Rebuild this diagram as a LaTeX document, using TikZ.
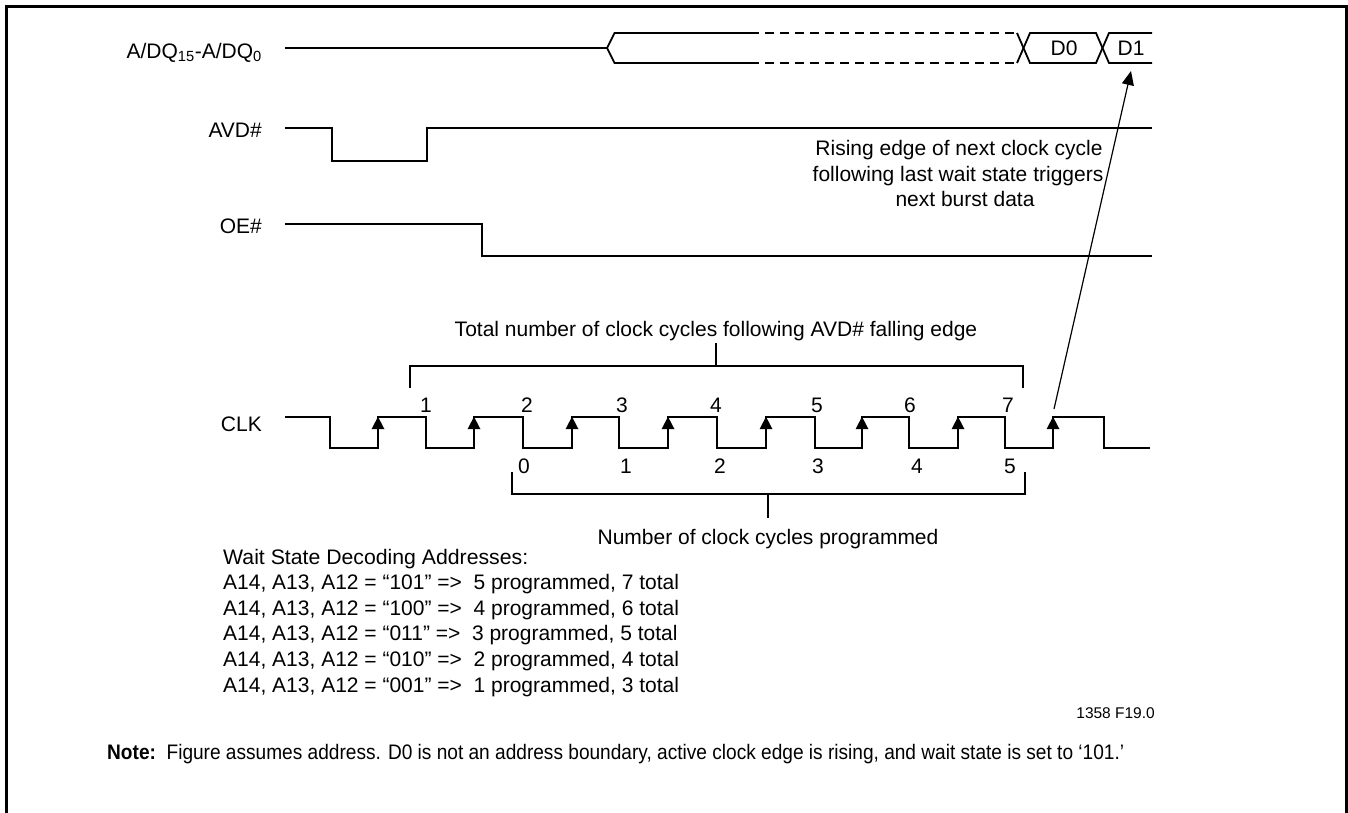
\documentclass[tikz,border=0pt]{standalone}
\usepackage{fontspec}
\setmainfont{Liberation Sans}
\usepackage{graphicx}
\usetikzlibrary{arrows.meta}
\begin{document}
\begin{tikzpicture}[x=1pt,y=-1pt,
  sig/.style={line width=1.8pt, line join=miter},
  brk/.style={line width=1.2pt},
  lbl/.style={font=\fontsize{21}{25}\selectfont, inner sep=0pt},
  small/.style={font=\fontsize{15.5}{18}\selectfont, inner sep=0pt},
  frame/.style={line width=3pt},
  clkup/.style={fill=black},
  pointer/.style={line width=1.2pt, -{Triangle[length=14pt,width=12pt]}}]
\useasboundingbox (0,0) rectangle (1348,812);
\clip (0,0) rectangle (1348,812);
\fill[white] (0,0) rectangle (1348,812);
\draw[frame] (6,830) -- (6,6) -- (1346.5,6) -- (1346.5,830);

% signal names
\node[lbl, anchor=base east] (ladq) at (262,58) {A/DQ\textsubscript{15}-A/DQ\textsubscript{0}};
\node[lbl, anchor=base east] (lavd) at (262,137) {AVD\#};
\node[lbl, anchor=base east] (loe) at (262,233) {OE\#};
\node[lbl, anchor=base east] (lclk) at (262,431.5) {CLK};

% A/DQ bus
\draw[sig] (285,48) -- (607,48);
\draw[sig] (607,48) -- (614.5,33) -- (750,33);
\draw[sig] (607,48) -- (614.5,63) -- (750,63);
\draw[sig, dash pattern=on 9pt off 6pt] (750,33) -- (1017,33);
\draw[sig, dash pattern=on 9pt off 6pt] (750,63) -- (1017,63);
\draw[sig] (1017,33) -- (1030,63) -- (1096,63) -- (1109,33) -- (1152,33);
\draw[sig] (1017,63) -- (1030,33) -- (1096,33) -- (1109,63) -- (1152,63);
\node[lbl, anchor=base] (d0) at (1064,55.5) {D0};
\node[lbl, anchor=base] (d1) at (1131,55.5) {D1};

% AVD#
\draw[sig] (285,128) -- (332,128) -- (332,161) -- (427,161) -- (427,128) -- (1152,128);
% OE#
\draw[sig] (285,224) -- (482,224) -- (482,256) -- (1152,256);

% CLK
\def\hi{416.7}\def\lo{448.3}
\draw[sig] (285,\hi)
  \foreach \f/\r in {330/378,426/474,523/572,619/668,717/766,815/862,909/958,1005/1053}
  { -- (\f,\hi) -- (\f,\lo) -- (\r,\lo) -- (\r,\hi) }
  -- (1104,\hi) -- (1104,\lo) -- (1150,\lo);
\foreach \r in {378,474,572,668,766,862,958,1053}
  \fill[clkup] (\r,\hi) -- ++(-6.5,12.5) -- ++(13,0) -- cycle;

% cycle numbers
\foreach \x/\n in {426/1,527/2,622/3,716/4,817/5,910/6,1008/7}
  \node[lbl, anchor=base] (top\n) at (\x,412) {\n};
\foreach \x/\n in {524/0,626/1,720/2,818/3,917/4,1010/5}
  \node[lbl, anchor=base] (bot\n) at (\x,473) {\n};

% top bracket
\draw[brk] (410,388) -- (410,366) -- (1023,366) -- (1023,388);
\draw[brk] (716,366) -- (716,343);
\node[lbl, anchor=base] (ttot) at (716,336.5) {Total number of clock cycles following AVD\# falling edge};

% bottom bracket
\draw[brk] (512,472) -- (512,494) -- (1025,494) -- (1025,472);
\draw[brk] (768,494) -- (768,518);
\node[lbl, anchor=base] (tprog) at (768,544.5) {Number of clock cycles programmed};

% rising edge note
\node[lbl, anchor=base] (r1) at (959,155.5) {Rising edge of next clock cycle};
\node[lbl, anchor=base] (r2) at (958,181) {following last wait state triggers};
\node[lbl, anchor=base] (r3) at (965,206.5) {next burst data};
\coordinate (astart) at (1054,409);
\coordinate (aend) at (1131,71);
\draw[pointer] (astart) -- (aend);

% decoding table
\node[inner sep=0pt, anchor=base west] (w0) at (223,564) {\resizebox{305pt}{\height}{\fontsize{21}{25}\selectfont Wait State Decoding Addresses:}};
\node[lbl, anchor=base west] (w1) at (223,589.6) {A14, A13, A12 = “101” =>\ \ 5 programmed, 7 total};
\node[lbl, anchor=base west] (w2) at (223,615.2) {A14, A13, A12 = “100” =>\ \ 4 programmed, 6 total};
\node[lbl, anchor=base west] (w3) at (223,640.8) {A14, A13, A12 = “011” =>\ \ 3 programmed, 5 total};
\node[lbl, anchor=base west] (w4) at (223,666.4) {A14, A13, A12 = “010” =>\ \ 2 programmed, 4 total};
\node[lbl, anchor=base west] (w5) at (223,692) {A14, A13, A12 = “001” =>\ \ 1 programmed, 3 total};

\node[small, anchor=base east] (fig) at (1155,718) {1358 F19.0};

\node[inner sep=0pt, anchor=base west] (note) at (107,759.5)
  {\resizebox{1017pt}{\height}{\fontsize{21}{25}\selectfont\textbf{Note:}\ \ Figure assumes address. D0 is not an address boundary, active clock edge is rising, and wait state is set to ‘101.’}};
\end{tikzpicture}
\end{document}
